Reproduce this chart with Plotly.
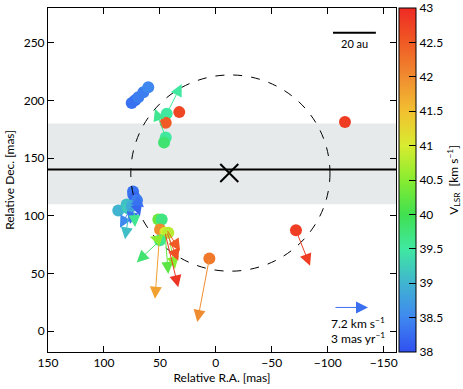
import plotly.graph_objects as go

# maser spots: relative R.A., Dec. [mas] and V_LSR [km/s]
ra = [75.2, 72.2, 69.3, 64.8, 60.4,
      43.9, 32.7, 44.8, 44.8, 46.3,
      -115.4,
      74.0, 73.8, 72.3, 70.5, 87.2, 79.7, 78.5, 75.2,
      51.4, 48.4, 49.9, 45.4, 42.5, 49.9,
      5.8, -71.6]
dec = [197.8, 200.1, 202.7, 207.0, 211.3,
       188.4, 189.8, 180.6, 167.8, 163.5,
       181.2,
       121.1, 118.3, 115.4, 113.4, 104.5, 109.7, 106.5, 108.2,
       96.8, 96.8, 88.2, 85.3, 85.3, 78.8,
       63.0, 87.4]
vlsr = [38.3, 38.3, 38.4, 38.4, 38.5,
        39.5, 42.7, 42.5, 39.5, 39.8,
        42.8,
        38.3, 38.3, 38.2, 38.4, 39.0, 39.1, 39.2, 38.9,
        40.3, 39.7, 42.0, 41.0, 40.8, 39.6,
        42.2, 42.8]

# proper motions: tail position [mas], motion [mas/yr], V_LSR
pm_ra0 = [43.9, 44.8, 5.8, -71.6, 49.9, 49.9, 45.4, 42.5, 45.4, 44.0, 44.0, 49.9,
          75.2, 77.0, 74.0, 73.0, 71.0, 70.0]
pm_dec0 = [188.4, 167.8, 63.0, 87.4, 78.8, 88.2, 85.3, 85.3, 85.3, 88.0, 86.0, 78.8,
           108.2, 106.0, 105.0, 104.0, 110.0, 112.0]
pm_x = [-1.34, 0.96, 1.08, -1.26, 2.08, 0.45, -0.29, -0.60, -1.18, -1.20, -1.04, 0.90,
        1.05, 0.42, 0.27, -0.08, -0.32, -0.58]
pm_y = [2.57, 2.49, -5.50, -3.07, -1.92, -6.00, -3.57, -3.14, -4.72, -1.84, -2.50, 0.30,
        -1.86, -2.64, -1.22, -1.38, -1.02, -0.46]
pm_v = [39.5, 39.6, 42.0, 42.8, 39.8, 41.8, 40.2, 40.5, 42.9, 42.5, 42.6, 40.5,
        38.5, 39.1, 38.3, 39.6, 38.2, 38.3]

MAS_PER_PM = 10.0  # arrow length [mas] per 1 mas/yr
VMIN, VMAX = 38, 43
cb_ticks = [38, 38.5, 39, 39.5, 40, 40.5, 41, 41.5, 42, 42.5, 43]

cscale = [[0.0, '#3050f0'], [0.1, '#3f88f0'], [0.2, '#40b4d0'], [0.3, '#40e8a0'],
          [0.4, '#40e050'], [0.5, '#88ec30'], [0.6, '#d8ec30'], [0.7, '#f2c030'],
          [0.8, '#f08c30'], [0.9, '#f05a24'], [1.0, '#ee2a24']]


def vcolor(v):
    t = min(max((v - VMIN) / (VMAX - VMIN), 0), 1)
    for (t0, c0), (t1, c1) in zip(cscale[:-1], cscale[1:]):
        if t <= t1:
            f = (t - t0) / (t1 - t0) if t1 > t0 else 0
            a = [int(c0[i:i + 2], 16) for i in (1, 3, 5)]
            b = [int(c1[i:i + 2], 16) for i in (1, 3, 5)]
            return 'rgb(%d,%d,%d)' % tuple(round(a[k] + f * (b[k] - a[k])) for k in range(3))
    return cscale[-1][1]


FONT = 'Lato'
fig = go.Figure()

# shaded band and reference line
fig.add_shape(type='rect', xref='paper', x0=0, x1=1, y0=110, y1=180,
              fillcolor='#e6eaea', line_width=0, layer='below')
fig.add_shape(type='line', xref='paper', x0=0, x1=1, y0=140, y1=140,
              line=dict(color='black', width=2))

# dashed circle around the central star
cx, cy, rx, ry = -13, 137, 89, 85
fig.add_shape(type='circle', x0=cx - rx, x1=cx + rx, y0=cy - ry, y1=cy + ry,
              line=dict(color='black', width=1, dash='dash'))

# central star
fig.add_trace(go.Scatter(x=[-12], y=[137], mode='markers',
                         marker=dict(symbol='x-thin', size=18,
                                     line=dict(color='black', width=2)),
                         hoverinfo='skip', showlegend=False))

# maser spots
fig.add_trace(go.Scatter(
    x=ra, y=dec, mode='markers', showlegend=False,
    marker=dict(size=12, color=vlsr, cmin=VMIN, cmax=VMAX, colorscale=cscale,
                opacity=1,
                colorbar=dict(
                    x=1.009, xanchor='left', xpad=0, y=0.5, yanchor='middle',
                    len=1, lenmode='fraction', thickness=17, ypad=0,
                    outlinecolor='black', outlinewidth=1,
                    ticks='inside', ticklen=7, tickcolor='black',
                    ticklabeloverflow='allow',
                    tickvals=cb_ticks, ticktext=['%g' % t for t in cb_ticks],
                    tickfont=dict(size=12, family=FONT, color='black'),
                ))))

# colour bar title
fig.add_annotation(xref='paper', yref='paper', x=1.166, y=0.5, textangle=-90,
                   xanchor='center', yanchor='middle',
                   text='V<sub>LSR</sub>  [km s<sup>\u22121</sup>]', showarrow=False,
                   font=dict(size=12, family=FONT, color='black'))

# proper motion arrows
for x0, y0, dx, dy, v in zip(pm_ra0, pm_dec0, pm_x, pm_y, pm_v):
    fig.add_annotation(x=x0 + dx * MAS_PER_PM, y=y0 + dy * MAS_PER_PM,
                       ax=x0, ay=y0, axref='x', ayref='y', xref='x', yref='y',
                       text='', showarrow=True, arrowhead=2, arrowsize=2.4,
                       arrowwidth=1, arrowcolor=vcolor(v))

# scale bar
fig.add_shape(type='line', x0=-104.7, x1=-143, y0=258.5, y1=258.5,
              line=dict(color='black', width=2))
fig.add_annotation(x=-124, y=249, text='20 au', showarrow=False,
                   font=dict(size=11, family=FONT, color='black'))

# proper motion legend arrow
fig.add_annotation(x=-136, y=20.6, ax=-105.6, ay=20.6, axref='x', ayref='y',
                   text='', showarrow=True, arrowhead=2, arrowsize=2.4,
                   arrowwidth=1, arrowcolor='#3a6ff0')
fig.add_annotation(x=-101, y=7, xanchor='left', text='7.2 km s<sup>\u22121</sup>',
                   showarrow=False, font=dict(size=12, family=FONT, color='black'))
fig.add_annotation(x=-101, y=-6, xanchor='left', text='3 mas yr<sup>\u22121</sup>',
                   showarrow=False, font=dict(size=12, family=FONT, color='black'))

axis_style = dict(showline=True, linecolor='black', linewidth=1, mirror='ticks',
                  ticks='inside', ticklen=6, tickcolor='black', showgrid=False,
                  zeroline=False, tickfont=dict(size=12, family=FONT, color='black'))

fig.update_layout(
    width=463, height=389,
    margin=dict(l=48, r=67, t=8, b=37, autoexpand=False),
    plot_bgcolor='white', paper_bgcolor='white',
    font=dict(family=FONT, color='black'),
    xaxis=dict(range=[150, -161], dtick=50, tick0=0,
               title=dict(text='Relative R.A. [mas]', font=dict(size=12), standoff=2),
               **axis_style),
    yaxis=dict(range=[-18, 280], dtick=50, tick0=0,
               title=dict(text='Relative Dec. [mas]', font=dict(size=12), standoff=6),
               **axis_style),
    showlegend=False,
)

fig.write_html("out.html", config={'displayModeBar': False},
               post_script="document.body.style.margin='0';")
